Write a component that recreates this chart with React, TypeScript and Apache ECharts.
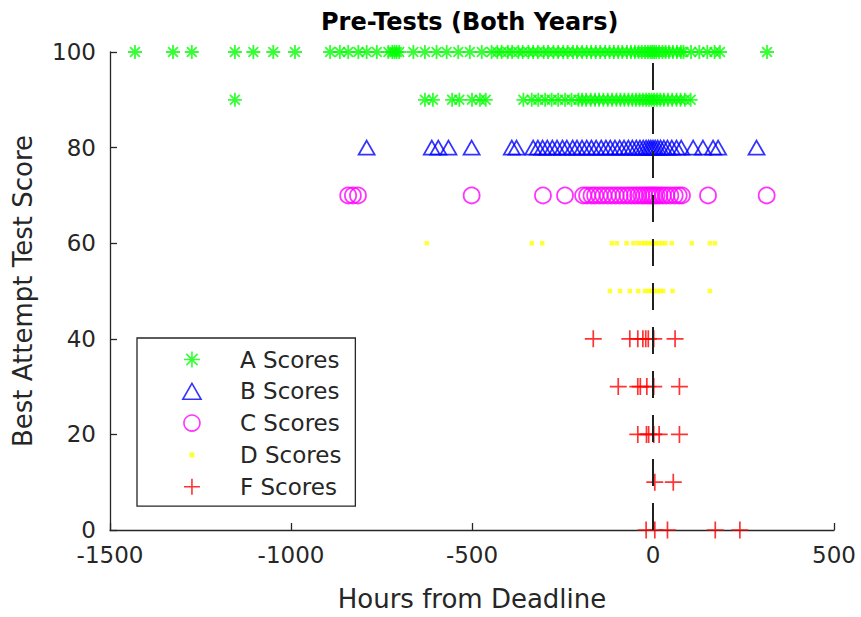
import React, { useEffect, useRef } from "react";
import * as echarts from "echarts";

const FONT = "'DejaVu Sans', sans-serif";
const AXIS_COLOR = "#262626";

// Hours from the deadline at which each best attempt was made, grouped by score.
const aHours100 = [
  -1431, -1326, -1274, -1155, -1104, -1049, -989,
  -892, -865, -842, -814, -791, -763, -731, -720, -714, -708, -701, -662, -630, -598, -570, -538, -506, -473,
  -446, -430, -418, -401, -389, -372, -360, -344, -331, -318, -302, -290, -275, -262, -248, -236, -221, -210,
  -196, -183, -171, -158, -146, -132, -120, -108, -96, -85, -72, -61, -50, -40, -31, -22, -14, -7, -2, 3, 9,
  17, 26, 35, 44, 55, 66, 77, 84, 105, 128, 150, 170, 185, 315,
];
const aHours90 = [
  -1155, -630, -608, -555, -535, -500, -478, -462, -358, -335, -317, -298, -280, -262, -243, -225, -206,
  -196, -185, -172, -160, -149, -137, -125, -113, -101, -90, -79, -68, -57, -47, -37, -28, -19, -11, -4, 3,
  11, 20, 30, 41, 53, 65, 76, 88, 104,
];
const bHours80 = [
  -791, -611, -593, -565, -501, -390, -377,
  -331, -318, -305, -292, -278, -265, -250, -238, -222, -210, -196, -183, -170, -157, -143, -130, -118, -105,
  -92, -80, -68, -57, -46, -36, -27, -19, -12, -6, 0, 6, 13, 21, 30, 40, 52, 65, 78,
  111, 138, 166, 180, 286,
];
const cHours70 = [
  -842, -829, -815, -501, -304, -243,
  -193, -182, -170, -160, -148, -137, -125, -114, -103, -92, -81, -70, -60, -50, -41, -32, -24, -16, -9, -3,
  3, 10, 18, 27, 37, 48, 60, 71, 80, 152, 314,
];
const dHours60 = [-625, -335, -306, -114, -100, -73, -54, -41, -30, -22, -14, -6, 1, 8, 16, 25, 34, 52, 107, 157, 171];
const dHours50 = [-119, -91, -64, -41, -22, -12, -4, 4, 12, 20, 28, 54, 157];
const fHours40 = [-165, -64, -42, -28, -20, -13, 2, 61];
const fHours30 = [-96, -42, -35, -17, 2, 73];
const fHours20 = [-42, -18, -12, 2, 17, 73];
const fHours10 = [5, 56];
const fHours0 = [-19, 5, 40, 172, 240];

const xTicks = { min: -1500, max: 500, step: 500 };
const yTicks = { min: 0, max: 100, step: 20 };

const STAR = "path://M0,-1L0,1M-1,0L1,0M-0.7,-0.7L0.7,0.7M-0.7,0.7L0.7,-0.7";
const PLUS = "path://M0,-1L0,1M-1,0L1,0";
const TRIANGLE = "path://M0,0L8,14L-8,14Z";
const DOT_ICON = "path://M-8,-8M8,8M-2.5,-2.5L2.5,-2.5L2.5,2.5L-2.5,2.5Z";

const toPoints = (hours: number[], score: number) => hours.map((h) => [h, score]);

export default function App() {
  const ref = useRef<HTMLDivElement>(null);

  useEffect(() => {
    document.body.style.margin = "0";
    const chart = echarts.init(ref.current!, null, { renderer: "svg" });

    const option = {
      animation: false,
      backgroundColor: "#ffffff",
      textStyle: { fontFamily: FONT },
      title: {
        text: "Pre-Tests (Both Years)",
        left: 321,
        top: 10,
        padding: 0,
        textStyle: { fontFamily: FONT, fontSize: 24, fontWeight: "bold", color: "#000000" },
      },
      grid: { left: 110, top: 52, width: 724, height: 480, containLabel: false },
      legend: {
        orient: "vertical",
        left: 137,
        top: 338,
        itemWidth: 86,
        itemHeight: 16,
        itemGap: 8.8,
        padding: [10, 14, 8, 45],
        borderColor: AXIS_COLOR,
        borderWidth: 1.3,
        backgroundColor: "#ffffff",
        selectedMode: false,
        textStyle: { fontFamily: FONT, fontSize: 23, color: AXIS_COLOR },
        itemStyle: { borderWidth: 1.6 },
        data: [
          { name: "A Scores" },
          { name: "B Scores" },
          { name: "C Scores" },
          { name: "D Scores", icon: DOT_ICON },
          { name: "F Scores" },
        ],
      },
      xAxis: {
        type: "value",
        min: xTicks.min,
        max: xTicks.max,
        interval: xTicks.step,
        name: "Hours from Deadline",
        nameLocation: "middle",
        nameGap: 56,
        nameTextStyle: { fontFamily: FONT, fontSize: 26, color: AXIS_COLOR },
        axisLine: { onZero: false, lineStyle: { color: AXIS_COLOR, width: 1.3 } },
        axisTick: { inside: true, length: 7, lineStyle: { color: AXIS_COLOR, width: 1.3 } },
        axisLabel: {
          margin: 13,
          fontFamily: FONT,
          fontSize: 23,
          color: AXIS_COLOR,
          formatter: (v: number) => String(v),
        },
        splitLine: { show: false },
      },
      yAxis: {
        type: "value",
        min: yTicks.min,
        max: yTicks.max,
        interval: yTicks.step,
        name: "Best Attempt Test Score",
        nameLocation: "middle",
        nameGap: 74,
        nameTextStyle: { fontFamily: FONT, fontSize: 26, color: AXIS_COLOR },
        axisLine: { show: true, onZero: false, lineStyle: { color: AXIS_COLOR, width: 1.3 } },
        axisTick: { show: true, inside: true, length: 7, lineStyle: { color: AXIS_COLOR, width: 1.3 } },
        axisLabel: {
          margin: 14,
          fontFamily: FONT,
          fontSize: 23,
          color: AXIS_COLOR,
          formatter: (v: number) => String(v),
        },
        splitLine: { show: false },
      },
      series: [
        {
          name: "A Scores",
          type: "scatter",
          symbol: STAR,
          symbolSize: 14,
          itemStyle: { color: "#00ff00", borderColor: "#00ff00", borderWidth: 1.8 },
          data: [...toPoints(aHours100, 100), ...toPoints(aHours90, 90)],
        },
        {
          name: "B Scores",
          type: "scatter",
          symbol: TRIANGLE,
          symbolKeepAspect: true,
          symbolSize: 16,
          itemStyle: { color: "rgba(0,0,0,0)", borderColor: "#0000ff", borderWidth: 1.8 },
          data: toPoints(bHours80, 80),
        },
        {
          name: "C Scores",
          type: "scatter",
          symbol: "circle",
          symbolSize: 16,
          itemStyle: { color: "rgba(0,0,0,0)", borderColor: "#ff00ff", borderWidth: 1.8 },
          data: toPoints(cHours70, 70),
        },
        {
          name: "D Scores",
          type: "scatter",
          symbol: "rect",
          symbolSize: 4.5,
          itemStyle: { color: "#ffff00" },
          data: [...toPoints(dHours60, 60), ...toPoints(dHours50, 50)],
        },
        {
          name: "F Scores",
          type: "scatter",
          symbol: PLUS,
          symbolSize: 17,
          itemStyle: { color: "#ff0000", borderColor: "#ff0000", borderWidth: 1.7 },
          data: [
            ...toPoints(fHours40, 40),
            ...toPoints(fHours30, 30),
            ...toPoints(fHours20, 20),
            ...toPoints(fHours10, 10),
            ...toPoints(fHours0, 0),
          ],
        },
        {
          name: "Deadline",
          type: "line",
          z: 5,
          silent: true,
          symbol: "none",
          lineStyle: { color: "#1f1f1f", width: 2, type: [27, 17] },
          data: [
            [0, yTicks.min],
            [0, yTicks.max],
          ],
        },
      ],
    };

    chart.setOption(option as any);
    return () => chart.dispose();
  }, []);

  return <div ref={ref} style={{ width: 861, height: 617 }} />;
}
